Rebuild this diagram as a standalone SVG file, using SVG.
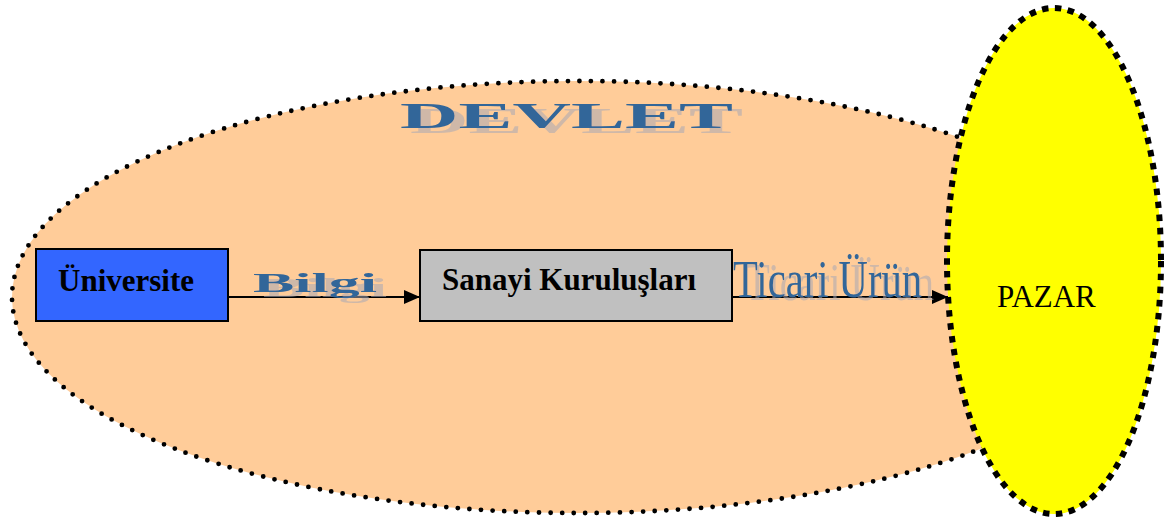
<svg xmlns="http://www.w3.org/2000/svg" width="1165" height="521" viewBox="0 0 1165 521">
<style>
.box{stroke:#000;stroke-width:2}
.lbl{font-family:"Liberation Serif","Times New Roman",serif;font-weight:bold;fill:#000}
.wa{font-family:"Liberation Serif","Times New Roman",serif;fill:#336699}
.conn{stroke:#000;stroke-width:2;fill:none}
</style>
<defs>
<marker id="ah" viewBox="0 0 16 14" refX="16" refY="7" markerWidth="16" markerHeight="14" markerUnits="userSpaceOnUse" orient="auto">
<path d="M0,0 L16,7 L0,14 Z" fill="#000"/>
</marker>
<filter id="sh" x="-10%" y="-30%" width="130%" height="180%">
<feOffset in="SourceAlpha" dx="10" dy="5" result="o"/>
<feFlood flood-color="#a8a8b4" flood-opacity="0.55"/>
<feComposite in2="o" operator="in" result="s"/>
<feMerge><feMergeNode in="s"/><feMergeNode in="SourceGraphic"/></feMerge>
</filter>
<filter id="sh2" x="-10%" y="-30%" width="130%" height="180%">
<feOffset in="SourceAlpha" dx="12" dy="3" result="o"/>
<feFlood flood-color="#a8a8b4" flood-opacity="0.55"/>
<feComposite in2="o" operator="in" result="s"/>
<feMerge><feMergeNode in="s"/><feMergeNode in="SourceGraphic"/></feMerge>
</filter>
</defs>
<rect width="1165" height="521" fill="#fff"/>
<g id="devlet">
<ellipse cx="578" cy="297" rx="566" ry="216" fill="#ffcc99" stroke="#000" stroke-width="4.8" stroke-linecap="round" stroke-dasharray="0 11.6"/>
<text class="wa" x="400" y="128" font-size="35" font-weight="bold" textLength="333" lengthAdjust="spacingAndGlyphs" filter="url(#sh)">DEVLET</text>
</g>
<g id="pazar">
<ellipse cx="1054" cy="261" rx="107" ry="253" fill="#ffff00" stroke="#000" stroke-width="6" stroke-dasharray="6.5 6.5"/>
<text x="997" y="307" font-family="Liberation Serif,'Times New Roman',serif" font-size="31" fill="#000">PAZAR</text>
</g>
<g id="universite">
<rect class="box" x="36" y="249" width="192" height="72" fill="#3366ff"/>
<text class="lbl" x="58" y="291" font-size="31">Üniversite</text>
</g>
<g id="sanayi">
<rect class="box" x="420" y="250" width="312" height="71" fill="#c0c0c0"/>
<text class="lbl" x="442" y="290" font-size="31">Sanayi Kuruluşları</text>
</g>
<g id="connectors">
<line class="conn" x1="228" y1="297" x2="420" y2="297" marker-end="url(#ah)"/>
<line class="conn" x1="732" y1="297" x2="948" y2="297" marker-end="url(#ah)"/>
</g>
<g id="labels">
<text class="wa" x="253" y="292" font-size="27" font-weight="bold" textLength="124" lengthAdjust="spacingAndGlyphs" filter="url(#sh)">Bilgi</text>
<text class="wa" x="733" y="297" font-size="53" textLength="189" lengthAdjust="spacingAndGlyphs" filter="url(#sh2)">Ticari Ürün</text>
</g>
</svg>
